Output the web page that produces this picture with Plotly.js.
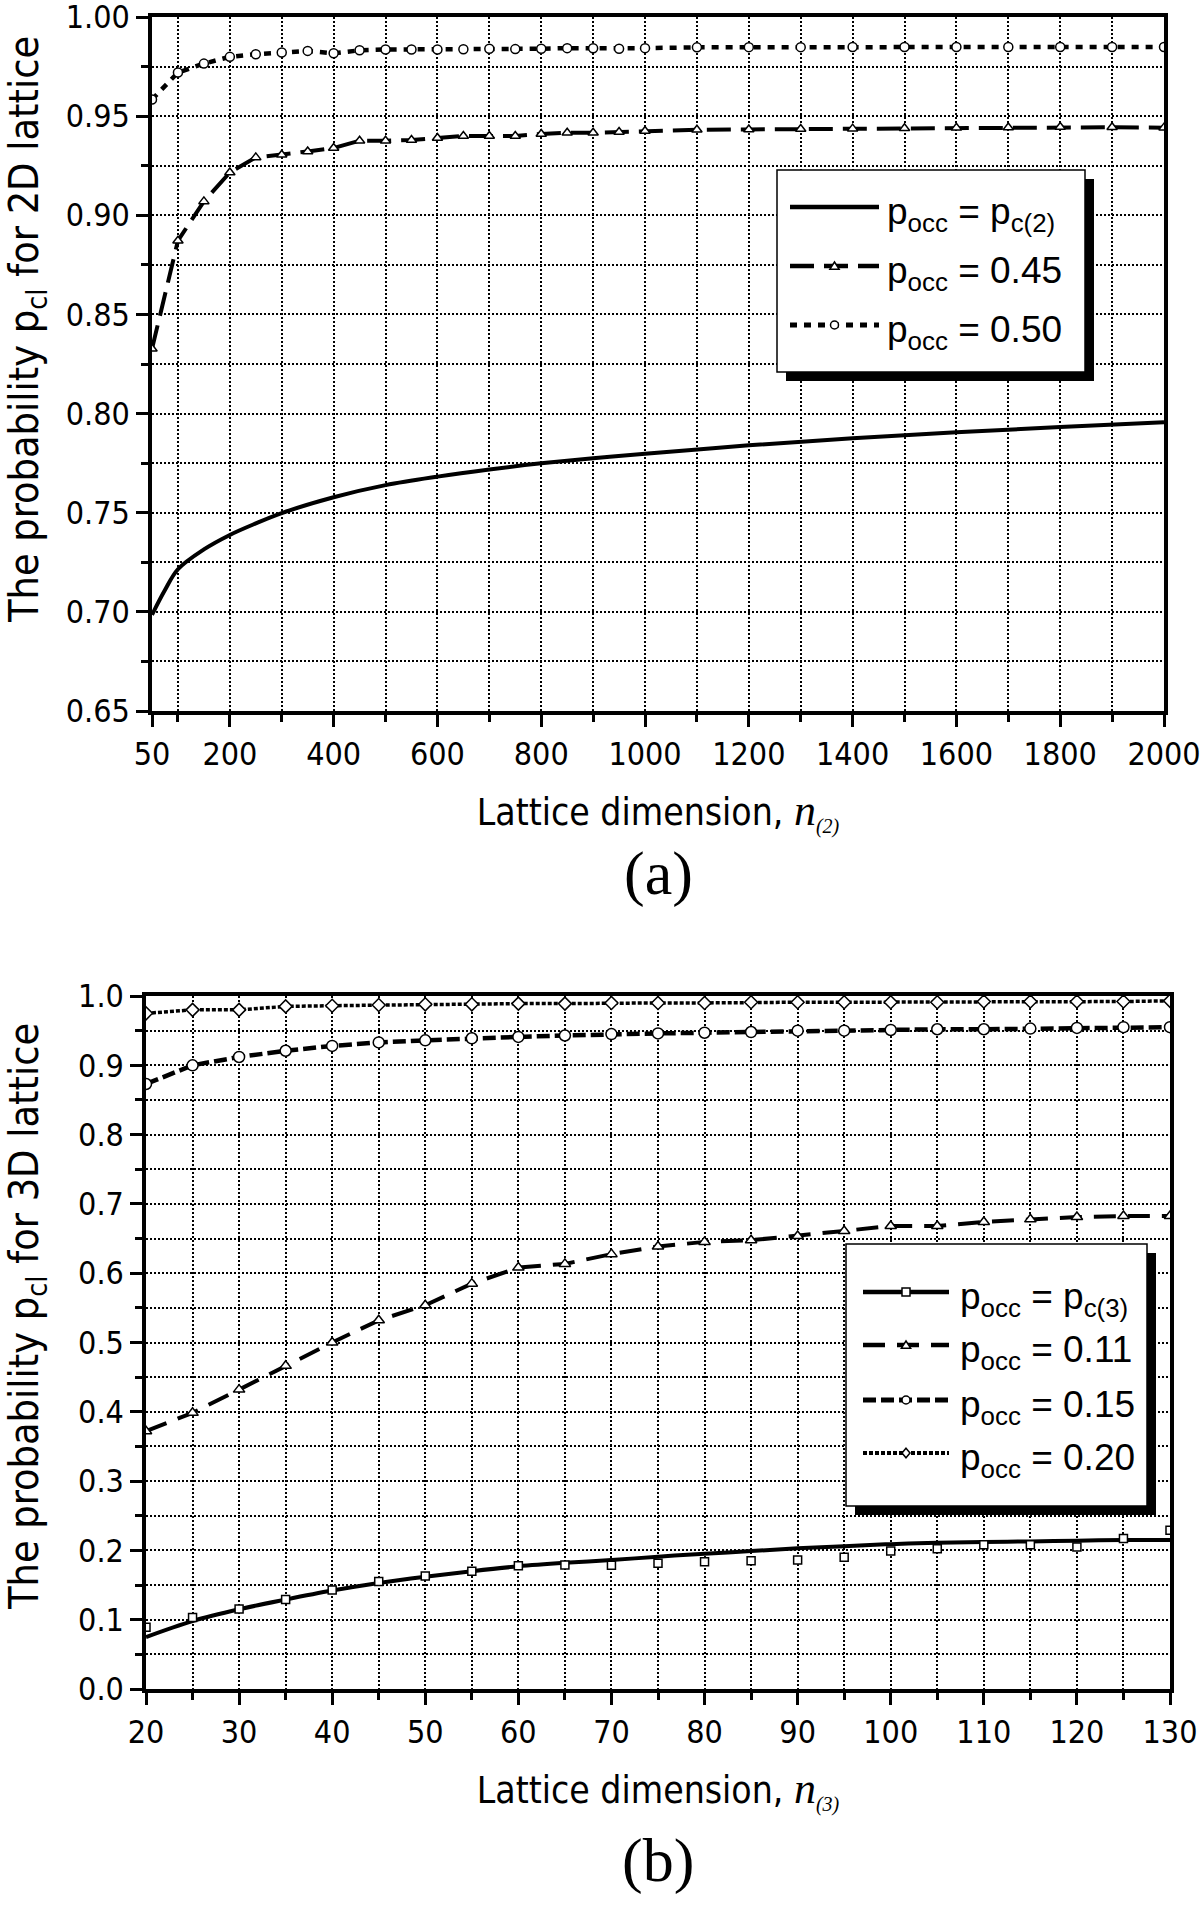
<!DOCTYPE html>
<html>
<head>
<meta charset="utf-8">
<script src="https://cdn.plot.ly/plotly-3.0.1.min.js"></script>
<style>
    html, body { margin: 0; padding: 0; background: #fff; }
    #chart { width: 1200px; height: 1911px; }
</style>
</head>
<body>
<div id="chart"></div>
<script>
const W = 1200, H = 1911;
const TICK_FONT = 'DejaVu Sans Condensed, DejaVu Sans, sans-serif';
const LEGEND_FONT = 'Liberation Sans, Arial, sans-serif';
const SERIF_FONT = 'Liberation Serif, Times New Roman, serif';

// pixel -> paper helpers (margins are 0, so paper == page)
const fx = px => px / W;
const fy = py => 1 - py / H;

// ---------- (a) 2D lattice ----------
const n2Fit = [50, 75, 100, 150, 200, 250, 300, 400, 500, 600, 700, 800, 900, 1000, 1200, 1400, 1600, 1800, 2000];
const pc2Fit = [0.6985, 0.7110, 0.7215, 0.7315, 0.7388, 0.7446, 0.7498, 0.7578, 0.7639, 0.7682, 0.7718, 0.7749, 0.7775, 0.7797, 0.7840, 0.7876, 0.7906, 0.7932, 0.7956];

const n2 = [50, 100, 150, 200, 250, 300, 350, 400, 450, 500, 550, 600, 650, 700, 750, 800, 850, 900, 950, 1000,
            1100, 1200, 1300, 1400, 1500, 1600, 1700, 1800, 1900, 2000];
const p045 = [0.8327, 0.8872, 0.9070, 0.9216, 0.9292, 0.9305, 0.9322, 0.9339, 0.9376, 0.9376, 0.9380, 0.9390, 0.9400, 0.9400, 0.9400, 0.9410, 0.9416, 0.9416, 0.9420, 0.9425,
              0.9431, 0.9433, 0.9435, 0.9437, 0.9439, 0.9441, 0.9443, 0.9445, 0.9444, 0.9442];
const p050 = [0.9584, 0.9720, 0.9765, 0.9799, 0.9812, 0.9821, 0.9829, 0.9817, 0.9832, 0.9836, 0.9836, 0.9836, 0.9837, 0.9840, 0.9838, 0.9840, 0.9843, 0.9842, 0.9840, 0.9843,
              0.9847, 0.9848, 0.9848, 0.9849, 0.9849, 0.9849, 0.9849, 0.9849, 0.9849, 0.9849];

// ---------- (b) 3D lattice ----------
const n3 = [20, 25, 30, 35, 40, 45, 50, 55, 60, 65, 70, 75, 80, 85, 90, 95, 100, 105, 110, 115, 120, 125, 130];
const pc3Fit = [0.075, 0.098, 0.115, 0.129, 0.142, 0.153, 0.162, 0.170, 0.177, 0.182, 0.186, 0.191, 0.195, 0.199, 0.203, 0.206, 0.209, 0.211, 0.212, 0.213, 0.214, 0.215, 0.215];
const pc3 = [0.089, 0.103, 0.1155, 0.129, 0.143, 0.155, 0.163, 0.170, 0.178, 0.179, 0.1786, 0.1816, 0.1835, 0.185, 0.186, 0.190, 0.199, 0.2024, 0.208, 0.208, 0.205, 0.217, 0.229];
const p011 = [0.372, 0.3985, 0.432, 0.4663, 0.500, 0.532, 0.5538, 0.5849, 0.6081, 0.6134, 0.6275, 0.6385, 0.6452, 0.6476, 0.6538, 0.661, 0.6682, 0.668, 0.674, 0.6777, 0.681, 0.6825, 0.6825];
const p015 = [0.873, 0.900, 0.912, 0.921, 0.928, 0.933, 0.936, 0.939, 0.941, 0.943, 0.945, 0.946, 0.947, 0.948, 0.950, 0.950, 0.951, 0.952, 0.952, 0.953, 0.954, 0.955, 0.955];
const p020 = [0.975, 0.980, 0.980, 0.985, 0.986, 0.987, 0.988, 0.988, 0.989, 0.989, 0.990, 0.990, 0.990, 0.991, 0.991, 0.991, 0.991, 0.991, 0.992, 0.992, 0.992, 0.992, 0.993];

// tick values
const xTicksA = [50, 200, 400, 600, 800, 1000, 1200, 1400, 1600, 1800, 2000];
const xMinorA = [100, 300, 500, 700, 900, 1100, 1300, 1500, 1700, 1900];
const yTicksA = [0.65, 0.70, 0.75, 0.80, 0.85, 0.90, 0.95, 1.00];

const legendTextA = ['p<sub>occ</sub> = p<sub>c(2)</sub>', 'p<sub>occ</sub> = 0.45', 'p<sub>occ</sub> = 0.50'];
const legendTextB = ['p<sub>occ</sub> = p<sub>c(3)</sub>', 'p<sub>occ</sub> = 0.11', 'p<sub>occ</sub> = 0.15', 'p<sub>occ</sub> = 0.20'];

// line / marker styles shared by the curves and the legend keys
const styleA = [
    {dash: 'solid', width: 4, symbol: null},
    {dash: '24px,10px', width: 4, symbol: 'triangle-up', size: 9},
    {dash: '7px,7px', width: 4.5, symbol: 'circle', size: 9}
];
const styleB = [
    {dash: 'solid', width: 4, symbol: 'square', size: 8},
    {dash: '22px,12px', width: 4, symbol: 'triangle-up', size: 10},
    {dash: '13px,5px', width: 4.5, symbol: 'circle', size: 11},
    {dash: '4px,2px', width: 3.5, symbol: 'diamond', size: 10}
];

function openMarker(st) {
    return {symbol: st.symbol, size: st.size, color: 'white', line: {color: 'black', width: 1.5}};
}

const traces = [
    {x: n2Fit, y: pc2Fit, mode: 'lines', line: {color: 'black', width: styleA[0].width, shape: 'spline'}, xaxis: 'x', yaxis: 'y'},
    {x: n2, y: p045, mode: 'lines+markers', line: {color: 'black', width: styleA[1].width, dash: styleA[1].dash}, marker: openMarker(styleA[1]), xaxis: 'x', yaxis: 'y'},
    {x: n2, y: p050, mode: 'lines+markers', line: {color: 'black', width: styleA[2].width, dash: styleA[2].dash}, marker: openMarker(styleA[2]), xaxis: 'x', yaxis: 'y'},

    {x: n3, y: pc3Fit, mode: 'lines', line: {color: 'black', width: styleB[0].width, shape: 'spline'}, xaxis: 'x2', yaxis: 'y2'},
    {x: n3, y: pc3, mode: 'markers', marker: openMarker(styleB[0]), xaxis: 'x2', yaxis: 'y2'},
    {x: n3, y: p011, mode: 'lines+markers', line: {color: 'black', width: styleB[1].width, dash: styleB[1].dash}, marker: openMarker(styleB[1]), xaxis: 'x2', yaxis: 'y2'},
    {x: n3, y: p015, mode: 'lines+markers', line: {color: 'black', width: styleB[2].width, dash: styleB[2].dash}, marker: openMarker(styleB[2]), xaxis: 'x2', yaxis: 'y2'},
    {x: n3, y: p020, mode: 'lines+markers', line: {color: 'black', width: styleB[3].width, dash: styleB[3].dash}, marker: openMarker(styleB[3]), xaxis: 'x2', yaxis: 'y2'}
];
traces.forEach(t => { t.showlegend = false; t.hoverinfo = 'x+y'; });

const gridStyle = {gridcolor: 'black', gridwidth: 1.5, griddash: '2px,2px'};

function axis(extra, minor) {
    return Object.assign({
        showline: true, linecolor: 'black', linewidth: 3.5, mirror: true,
        ticks: 'outside', ticklen: 12, tickwidth: 3, tickcolor: 'black',
        showgrid: true, zeroline: false, fixedrange: true,
        ticklabeloverflow: 'allow',
        tickfont: {family: TICK_FONT, size: 32, color: 'black'},
        minor: Object.assign({ticks: 'outside', ticklen: 7, tickwidth: 3, tickcolor: 'black', showgrid: true}, gridStyle, minor)
    }, gridStyle, extra);
}

function xTitle(sub) {
    return {
        text: 'Lattice dimension, <span style="font-family:Liberation Serif;font-size:44px"><i>n</i></span>' +
              '<sub><span style="font-family:Liberation Serif;font-size:20px"><i>(' + sub + ')</i></span></sub>',
        font: {family: TICK_FONT, size: 37, color: 'black'},
        standoff: 28
    };
}

// legend boxes drawn as shapes + annotations (box with a drop shadow)
const shapes = [];
const annotations = [];

// y-axis titles sit a little above the plot centre in the original, so they are annotations
function yTitle(dim, cy) {
    annotations.push({xref: 'paper', yref: 'paper', x: fx(27), y: fy(cy), xanchor: 'center', yanchor: 'middle',
        textangle: -90, showarrow: false, text: 'The probability p<sub>cl</sub> for ' + dim + ' lattice',
        font: {family: TICK_FONT, size: 41, color: 'black'}});
}
yTitle('2D', 330);
yTitle('3D', 1317);

function markerShape(symbol, cx, cy, r) {
    const common = {xref: 'paper', yref: 'paper', fillcolor: 'white', line: {color: 'black', width: 1.5}, layer: 'above'};
    if (symbol === 'circle') {
        return Object.assign({type: 'circle', x0: fx(cx - r), x1: fx(cx + r), y0: fy(cy + r), y1: fy(cy - r)}, common);
    }
    if (symbol === 'square') {
        return Object.assign({type: 'rect', x0: fx(cx - r), x1: fx(cx + r), y0: fy(cy + r), y1: fy(cy - r)}, common);
    }
    let pts;
    if (symbol === 'triangle-up') {
        pts = [[cx, cy - r], [cx + r * 1.15, cy + r * 0.8], [cx - r * 1.15, cy + r * 0.8]];
    } else {
        pts = [[cx, cy - r * 1.2], [cx + r, cy], [cx, cy + r * 1.2], [cx - r, cy]];
    }
    const path = 'M' + pts.map(p => fx(p[0]) + ',' + fy(p[1])).join('L') + 'Z';
    return Object.assign({type: 'path', path: path}, common);
}

function addLegend(box, rows, lineX, textX, texts, styles) {
    const shadow = 9;
    shapes.push({type: 'rect', xref: 'paper', yref: 'paper', layer: 'above',
        x0: fx(box.x0 + shadow), x1: fx(box.x1 + shadow), y0: fy(box.y1 + shadow), y1: fy(box.y0 + shadow),
        fillcolor: 'black', line: {width: 0}});
    shapes.push({type: 'rect', xref: 'paper', yref: 'paper', layer: 'above',
        x0: fx(box.x0), x1: fx(box.x1), y0: fy(box.y1), y1: fy(box.y0),
        fillcolor: 'white', line: {color: 'black', width: 1.5}});
    rows.forEach((ry, i) => {
        const st = styles[i];
        shapes.push({type: 'line', xref: 'paper', yref: 'paper', layer: 'above',
            x0: fx(lineX[0]), x1: fx(lineX[1]), y0: fy(ry), y1: fy(ry),
            line: {color: 'black', width: st.width + 0.5, dash: st.dash}});
        if (st.symbol) {
            const mid = (lineX[0] + lineX[1]) / 2;
            shapes.push(markerShape(st.symbol, mid, ry, 4));
        }
        annotations.push({xref: 'paper', yref: 'paper', x: fx(textX), y: fy(ry), xanchor: 'left', yanchor: 'middle',
            yshift: -7, showarrow: false, text: texts[i],
            font: {family: LEGEND_FONT, size: 37, color: 'black'}});
    });
}

addLegend({x0: 777, x1: 1085, y0: 170, y1: 372}, [207, 266, 325], [790, 879], 885, legendTextA, styleA);
addLegend({x0: 846, x1: 1147, y0: 1244, y1: 1506}, [1292, 1345, 1400, 1453], [863, 949], 958, legendTextB, styleB);

annotations.push({xref: 'paper', yref: 'paper', x: fx(658), y: fy(874), xanchor: 'center', yanchor: 'middle',
    showarrow: false, text: '(a)', font: {family: SERIF_FONT, size: 62, color: 'black'}});
annotations.push({xref: 'paper', yref: 'paper', x: fx(658), y: fy(1860), xanchor: 'center', yanchor: 'middle',
    showarrow: false, text: '(b)', font: {family: SERIF_FONT, size: 62, color: 'black'}});

const layout = {
    width: W,
    height: H,
    margin: {l: 0, r: 0, t: 0, b: 0},
    paper_bgcolor: 'white',
    plot_bgcolor: 'white',
    showlegend: false,
    xaxis: axis({
        domain: [fx(152), fx(1164)], anchor: 'y', range: [50, 2000],
        tickmode: 'array', tickvals: xTicksA, title: xTitle(2)
    }, {tickmode: 'array', tickvals: xMinorA}),
    yaxis: axis({
        domain: [fy(711), fy(17)], anchor: 'x', range: [0.65, 1.0],
        tickmode: 'array', tickvals: yTicksA, tickformat: '.2f'
    }, {tick0: 0.65, dtick: 0.025}),
    xaxis2: axis({
        domain: [fx(146), fx(1170)], anchor: 'y2', range: [20, 130],
        tick0: 20, dtick: 10, title: xTitle(3)
    }, {tick0: 20, dtick: 5}),
    yaxis2: axis({
        domain: [fy(1689), fy(996)], anchor: 'x2', range: [0, 1.0],
        tick0: 0, dtick: 0.1, tickformat: '.1f'
    }, {tick0: 0, dtick: 0.05}),
    shapes: shapes,
    annotations: annotations
};

Plotly.newPlot('chart', traces, layout, {displayModeBar: false, responsive: false});
</script>
</body>
</html>
